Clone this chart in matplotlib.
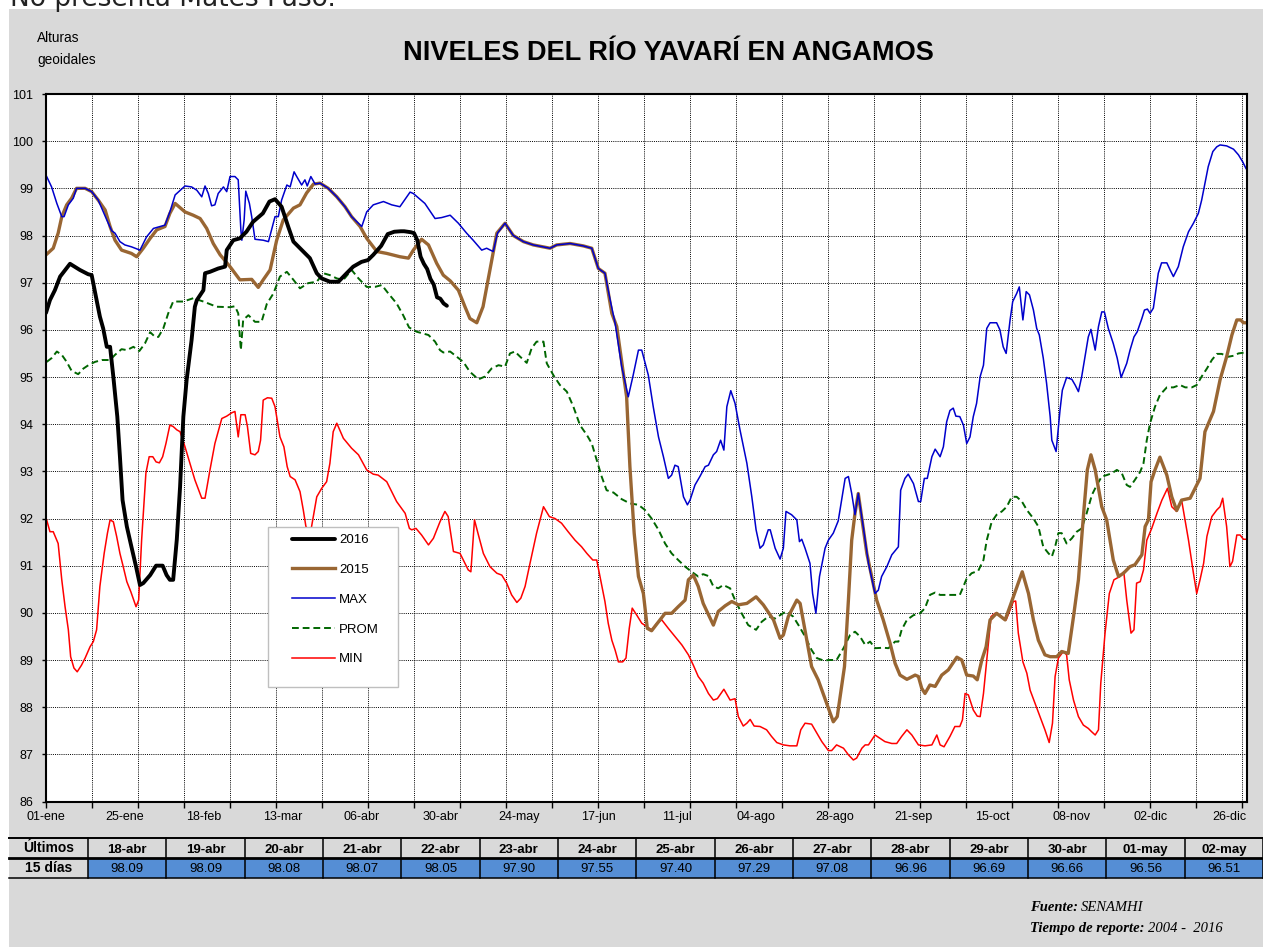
import numpy as np
import matplotlib.pyplot as plt
from matplotlib.patches import Rectangle

# ---- datos (dia del anio 2016, nivel en m) ----
dias_2016 = [0, 1.2, 2.7, 4.3, 7.3, 10.3, 12.8, 13.9, 15.4, 16.4, 17.4, 18.5, 19.5, 20.5,
             21.7, 22.5, 23.3, 24.6, 26, 27.4, 28.6, 29.6, 31.7, 33.5, 35.5, 36.7, 37.7,
             38.7, 39.8, 40.8, 41.8, 42.8, 44.3, 45.3, 45.9, 47.9, 48.4, 49.9, 52.4, 54.5,
             55, 57, 59, 61, 63, 66, 68, 69.7, 71.7, 73.7, 75.3, 77.3, 80.3, 82.4, 83.9,
             86.4, 89, 91.5, 93.5, 96, 98, 99.6, 102, 104, 106]
nivel_2016 = [96.36, 96.63, 96.84, 97.13, 97.40, 97.27, 97.18, 97.16, 96.63, 96.28, 96.03,
              95.64, 95.64, 95.00, 94.16, 93.31, 92.39, 91.83, 91.40, 90.98, 90.59, 90.63,
              90.80, 91.00, 91.00, 90.80, 90.70, 90.70, 91.55, 92.67, 94.16, 94.94, 95.78,
              96.49, 96.63, 96.84, 97.20, 97.23, 97.30, 97.34, 97.69, 97.90, 97.94, 98.08,
              98.29, 98.47, 98.72, 98.77, 98.61, 98.19, 97.87, 97.73, 97.52, 97.20, 97.09,
              97.02, 97.02, 97.20, 97.34, 97.44, 97.48, 97.59, 97.78, 98.03, 98.08]

# ultimos 15 dias (tabla)
fechas_tabla = ['18-abr', '19-abr', '20-abr', '21-abr', '22-abr', '23-abr', '24-abr', '25-abr',
                '26-abr', '27-abr', '28-abr', '29-abr', '30-abr', '01-may', '02-may']
valores_tabla = [98.09, 98.09, 98.08, 98.07, 98.05, 97.90, 97.55, 97.40, 97.29, 97.08,
                 96.96, 96.69, 96.66, 96.56, 96.51]
dia_18_abr = 108

dias_2015 = [0, 2.2, 3.7, 4.8, 6.3, 7.8, 9.3, 11.9, 13.9, 15.9, 18, 19.5, 21, 23, 26, 27.6,
             29.6, 31.7, 33.7, 36.2, 37.7, 39.3, 42.3, 44.8, 46.9, 48.9, 50.9, 53, 56, 59,
             62.6, 64.6, 66.1, 68.2, 70.2, 72.2, 75.3, 77.3, 79.3, 81.4, 83.4, 85.9, 88.5,
             91, 93, 95.6, 97.6, 100.7, 103.7, 107.7, 110.3, 111.8, 114.3, 116.4, 118.9,
             120.9, 123, 125.5, 127.5, 129, 131.1, 133, 135.1, 137.2, 139.7, 142.2, 145.3,
             148.3, 153.4, 155.4, 159.5, 163.5, 166.1, 168.1, 170.1, 172.2, 173.7, 176.7,
             177.7, 179, 180.3, 181.8, 183, 184.3, 186.4, 188.4, 190.4, 192.4, 194.5, 195.5,
             197, 198.5, 200, 203.1, 204.6, 206.7, 208.7, 210.7, 213.3, 216.1, 218.3, 221.4,
             223.4, 224.4, 225.9, 228.5, 229.5, 233, 235, 237.6, 239.6, 240.8, 243, 244.2,
             245.2, 246.2, 247.2, 248.2, 249.8, 251.3, 252.8, 254.8, 256.9, 258.4, 259.9,
             262, 264.5, 265.5, 266.5, 267.5, 269, 270.6, 272.6, 274.6, 277.2, 278.7, 280.2,
             282.2, 283.4, 284.8, 286.1, 287.3, 289.3, 291.9, 294.4, 297.1, 299, 300.5, 302,
             304, 305.6, 307.6, 309.1, 311.1, 312.7, 314.2, 315.7, 316.9, 318, 319.3, 321.3,
             322.8, 324.8, 326.4, 327.9, 329.9, 331.4, 333.5, 334.5, 335.5, 336.3, 337.5, 339,
             341.1, 342.6, 344.1, 345.6, 348.2, 349.7, 351.2, 352.7, 355.3, 357.3, 359.3,
             360.9, 362.4, 363.6, 364.4, 365.4]
nivel_2015 = [97.59, 97.73, 98.05, 98.40, 98.65, 98.79, 99.00, 99.00, 98.93, 98.75, 98.54,
              98.19, 97.90, 97.69, 97.62, 97.55, 97.73, 97.94, 98.12, 98.19, 98.47, 98.68,
              98.50, 98.43, 98.36, 98.15, 97.83, 97.59, 97.34, 97.06, 97.07, 96.90, 97.06,
              97.27, 97.90, 98.33, 98.58, 98.65, 98.90, 99.09, 99.11, 99.00, 98.82, 98.61,
              98.40, 98.19, 97.94, 97.66, 97.62, 97.55, 97.52, 97.69, 97.92, 97.80, 97.41,
              97.16, 97.04, 96.84, 96.49, 96.24, 96.15, 96.49, 97.27, 98.05, 98.26, 98.00,
              97.87, 97.80, 97.73, 97.80, 97.83, 97.78, 97.73, 97.30, 97.20, 96.35, 96.07,
              94.58, 93.10, 91.69, 90.77, 90.41, 89.67, 89.62, 89.81, 89.99, 89.99, 90.13,
              90.27, 90.70, 90.80, 90.56, 90.20, 89.74, 90.03, 90.15, 90.24, 90.17, 90.20,
              90.34, 90.17, 89.85, 89.46, 89.53, 89.92, 90.27, 90.20, 88.86, 88.58, 88.08,
              87.69, 87.80, 88.86, 90.27, 91.54, 92.11, 92.53, 92.04, 91.26, 90.77, 90.27,
              89.85, 89.35, 88.93, 88.68, 88.59, 88.68, 88.65, 88.40, 88.29, 88.47, 88.44,
              88.68, 88.79, 89.06, 89.00, 88.68, 88.66, 88.58, 89.00, 89.28, 89.85, 89.99,
              89.85, 90.34, 90.87, 90.41, 89.85, 89.42, 89.11, 89.07, 89.07, 89.18, 89.14,
              89.92, 90.70, 92.04, 93.03, 93.35, 93.03, 92.25, 91.97, 91.12, 90.77, 90.84,
              90.98, 91.02, 91.23, 91.83, 91.97, 92.78, 93.03, 93.30, 92.92, 92.46, 92.17,
              92.39, 92.43, 92.64, 92.85, 93.84, 94.27, 94.94, 95.43, 95.89, 96.21, 96.21,
              96.15, 96.15]

dias_max = [0.2, 1.7, 3.3, 4.8, 5.5, 6.8, 8.3, 9.3, 11.9, 13.9, 15.9, 18.5, 20, 21, 22.5, 24,
            26, 28.6, 30.6, 32.7, 36.2, 37.7, 39.3, 42.3, 44.3, 45.9, 47.4, 48.4, 49.4, 50.4,
            51.4, 52.4, 54, 55, 56, 57.5, 58.5, 59.3, 59.6, 60.3, 60.8, 61.9, 62.6, 63.6,
            66.1, 67.7, 69.7, 70.7, 71.7, 73.3, 74.3, 75.5, 76.3, 77.8, 78.8, 79.5, 80.6,
            81.9, 83.4, 85.9, 88.5, 91, 93, 96.1, 97.6, 99.6, 102.7, 105.2, 107.7, 110.8,
            111.8, 115.3, 118.4, 120.4, 123, 125.5, 128, 130, 132.6, 134.1, 136.1, 137.4,
            139.7, 142.2, 145.3, 148.3, 153.4, 155.4, 159.5, 163.5, 166.1, 168.1, 170.1,
            171.7, 173.2, 175.2, 177.2, 178.7, 180.3, 181.3, 183.3, 184.8, 186.4, 187.9,
            189.4, 190.4, 191.4, 192.4, 194, 195.2, 196, 197.5, 199, 200.6, 201.6, 203.1,
            204.1, 205.3, 206.3, 207.2, 208.4, 209.7, 211.2, 213.3, 214.8, 216.1, 217.3,
            218.3, 219.8, 220.4, 221.9, 223.4, 224.4, 225.2, 226.9, 228.5, 229.3, 230, 231,
            232.5, 233.3, 234.3, 235.4, 237.1, 238.1, 239.6, 241.1, 243.2, 244.2, 245.2,
            246.2, 247.2, 248.7, 250.3, 252.3, 253.3, 254.3, 255.9, 257.4, 259.4, 260.1,
            261.4, 262.4, 264, 265.5, 266.2, 267.3, 268.2, 269.6, 270.6, 272.1, 273.1, 274.1,
            275.1, 276.1, 276.9, 278.1, 279.2, 280.2, 281.2, 282.2, 283.2, 284.3, 285.3,
            286.3, 287.3, 289.3, 290.3, 291.3, 292.2, 293.4, 294.2, 295.4, 296.2, 297.3,
            298.3, 299.3, 300.5, 301.5, 302.3, 303.5, 304.5, 305.6, 306.1, 307.4, 308.6,
            309.3, 310.6, 312.2, 313.2, 314.2, 315.2, 316.2, 317.2, 318, 319.3, 320.3, 321.3,
            322.1, 323.3, 324.8, 326, 327.2, 328.9, 329.9, 331.1, 332.1, 333.5, 334.3, 335.2,
            336, 337, 338.5, 339.5, 341.1, 342.1, 343.1, 344.6, 346.1, 347.7, 349.2, 350.7,
            351.7, 352.7, 353.7, 355.1, 356.3, 357.3, 359.3, 361.4, 362.9, 364.2, 365.2]
nivel_max = [99.25, 99.03, 98.68, 98.40, 98.40, 98.65, 98.79, 99.00, 99.00, 98.93, 98.75,
             98.33, 98.10, 98.05, 97.87, 97.80, 97.76, 97.69, 97.97, 98.15, 98.22, 98.50,
             98.86, 99.05, 99.03, 98.96, 98.82, 99.05, 98.89, 98.63, 98.65, 98.89, 99.03,
             98.93, 99.25, 99.25, 99.18, 98.12, 97.90, 98.33, 98.94, 98.68, 98.40, 97.92,
             97.90, 97.87, 98.40, 98.40, 98.75, 99.07, 99.03, 99.35, 99.25, 99.07, 99.18,
             99.05, 99.25, 99.09, 99.11, 99.00, 98.82, 98.61, 98.40, 98.19, 98.50, 98.65,
             98.72, 98.65, 98.61, 98.92, 98.89, 98.68, 98.36, 98.38, 98.43, 98.26, 98.05,
             97.90, 97.69, 97.73, 97.66, 98.05, 98.26, 98.00, 97.87, 97.80, 97.73, 97.80,
             97.83, 97.78, 97.73, 97.30, 97.20, 96.63, 96.14, 95.22, 94.58, 95.04, 95.57,
             95.57, 95.04, 94.37, 93.73, 93.31, 92.85, 92.92, 93.13, 93.10, 92.46, 92.29,
             92.39, 92.71, 92.89, 93.10, 93.13, 93.35, 93.42, 93.66, 93.45, 94.37, 94.71,
             94.44, 93.88, 93.17, 92.46, 91.76, 91.37, 91.44, 91.76, 91.76, 91.37, 91.14,
             91.37, 92.15, 92.08, 91.97, 91.51, 91.56, 91.37, 91.05, 90.41, 89.99, 90.77,
             91.37, 91.54, 91.69, 91.95, 92.85, 92.89, 92.53, 92.08, 92.53, 91.83, 91.05,
             90.41, 90.48, 90.77, 90.98, 91.23, 91.40, 92.60, 92.85, 92.94, 92.74, 92.36,
             92.36, 92.85, 92.85, 93.31, 93.47, 93.31, 93.52, 94.05, 94.29, 94.34, 94.17,
             94.16, 93.98, 93.59, 93.73, 94.16, 94.44, 95.01, 95.25, 96.03, 96.15, 96.15,
             96.00, 95.64, 95.50, 96.21, 96.60, 96.77, 96.91, 96.21, 96.81, 96.74, 96.42,
             96.03, 95.89, 95.40, 94.87, 94.16, 93.66, 93.42, 94.30, 94.72, 94.99, 94.95,
             94.83, 94.69, 95.01, 95.43, 95.85, 96.01, 95.57, 96.07, 96.38, 96.38, 96.03,
             95.71, 95.40, 94.99, 95.29, 95.57, 95.85, 95.96, 96.24, 96.42, 96.44, 96.35,
             96.46, 97.20, 97.42, 97.42, 97.27, 97.13, 97.34, 97.76, 98.08, 98.26, 98.47,
             98.75, 99.11, 99.46, 99.78, 99.88, 99.92, 99.90, 99.83, 99.71, 99.56, 99.42]

dias_prom = [0.2, 1.7, 3.3, 4.8, 6.3, 7.8, 9.8, 11.4, 12.9, 14.9, 17, 19.5, 21, 23, 24.6, 26.6,
             28.4, 30.1, 31.7, 33.2, 34.2, 35.7, 37.2, 38.7, 41.8, 44.8, 47.9, 51.9, 56, 57.5,
             58.5, 59.3, 60, 61.6, 63.6, 65.6, 67.2, 69.2, 71.2, 73.3, 75.3, 77.3, 79.8, 82.4,
             84.4, 86.4, 88.5, 90.5, 93, 95.1, 97.6, 100.1, 102.2, 104.2, 106.7, 108.7, 110.5,
             112.8, 116.4, 118.4, 119.9, 120.9, 123, 125, 127, 129, 131.6, 133.6, 135.6, 137.7,
             139.7, 141.2, 142.7, 144.3, 146.3, 147.8, 149.3, 151.4, 152.4, 154.4, 156.4,
             158.5, 160.5, 162.5, 164.6, 166.1, 167.6, 169.1, 170.6, 172.7, 175.2, 177.7,
             180.3, 182.3, 184.3, 186.4, 188.4, 190.4, 192.4, 194.5, 196.5, 198.5, 200, 201.6,
             203.1, 204.6, 206.1, 208.2, 209.7, 211.7, 213.7, 216.1, 217.8, 219.8, 221.9,
             223.4, 225.2, 227.4, 229, 231, 233, 234.6, 236.6, 238.6, 240.6, 242.7, 244.7,
             246.2, 247.7, 249.3, 250.8, 252.3, 254.8, 256.4, 258.4, 259.4, 260.4, 262, 264,
             266, 267.5, 269, 270.6, 272.1, 278.1, 279.2, 280.2, 281.7, 283.7, 285.3, 286.3,
             287.8, 289.3, 290.9, 292.4, 293.9, 295.4, 297, 298.5, 300.5, 302, 303.5, 305.1,
             306.1, 307.1, 308.1, 309.1, 310.6, 312.2, 313.7, 315.2, 316.7, 318.3, 319.8,
             321.3, 322.8, 324.4, 325.9, 327.4, 328.9, 329.9, 331.4, 333, 334, 335, 336,
             337.5, 339, 341.1, 343.1, 345.1, 346.7, 348.7, 350.2, 351.7, 353.3, 354.8, 356.3,
             357.8, 359.8, 361.4, 362.9, 364.9]
nivel_prom = [95.32, 95.40, 95.54, 95.47, 95.32, 95.13, 95.06, 95.18, 95.25, 95.32, 95.36,
              95.36, 95.47, 95.59, 95.57, 95.64, 95.55, 95.71, 95.95, 95.85, 95.85, 96.03,
              96.35, 96.60, 96.60, 96.67, 96.60, 96.49, 96.48, 96.50, 96.35, 95.57, 96.21,
              96.31, 96.17, 96.17, 96.55, 96.77, 97.13, 97.23, 97.06, 96.88, 96.99, 97.02,
              97.20, 97.16, 97.09, 97.06, 97.27, 97.09, 96.91, 96.91, 96.95, 96.77, 96.56,
              96.31, 96.05, 95.96, 95.89, 95.75, 95.57, 95.52, 95.54, 95.43, 95.32, 95.11,
              94.95, 95.01, 95.18, 95.25, 95.22, 95.50, 95.54, 95.43, 95.30, 95.61, 95.75,
              95.75, 95.29, 95.04, 94.83, 94.69, 94.37, 93.98, 93.77, 93.59, 93.24, 92.89,
              92.60, 92.55, 92.41, 92.32, 92.29, 92.18, 92.00, 91.76, 91.47, 91.26, 91.12,
              90.98, 90.87, 90.77, 90.82, 90.78, 90.56, 90.52, 90.59, 90.52, 90.27, 89.99,
              89.74, 89.64, 89.81, 89.92, 89.88, 89.95, 90.03, 89.92, 89.74, 89.50, 89.21,
              89.04, 88.99, 89.00, 89.00, 89.25, 89.53, 89.60, 89.50, 89.32, 89.39, 89.25,
              89.26, 89.25, 89.39, 89.39, 89.64, 89.85, 89.95, 89.99, 90.10, 90.38, 90.43,
              90.38, 90.38, 90.56, 90.73, 90.84, 90.89, 91.12, 91.54, 91.93, 92.08, 92.15,
              92.25, 92.46, 92.46, 92.36, 92.18, 92.00, 91.83, 91.40, 91.26, 91.19, 91.40,
              91.69, 91.69, 91.47, 91.58, 91.72, 91.79, 92.11, 92.50, 92.71, 92.89, 92.92,
              92.96, 93.03, 92.96, 92.71, 92.67, 92.82, 92.99, 93.17, 93.66, 94.02, 94.37,
              94.62, 94.78, 94.78, 94.83, 94.78, 94.78, 94.83, 95.01, 95.18, 95.36, 95.49,
              95.49, 95.43, 95.45, 95.50, 95.52]

dias_min = [0.2, 1.2, 2.2, 3.7, 4.8, 5.8, 6.8, 7.5, 8.5, 9.5, 10.8, 11.9, 13.4, 14.4, 15.4,
            16.4, 17.7, 18.7, 19.5, 20.5, 21.5, 22.5, 23.5, 24.6, 25.8, 27.4, 28.2, 29.1,
            30.4, 31.4, 32.5, 33.5, 34.5, 35.5, 36.5, 37.7, 38.7, 39.8, 40.8, 42.3, 43.8,
            45.3, 47.4, 48.4, 49.9, 51.4, 53.5, 55, 56.5, 57.5, 58.5, 59.3, 60.6, 61.3, 62.3,
            63.6, 64.6, 65.3, 66.1, 67.4, 68.7, 69.7, 71.2, 72.4, 73.4, 74.3, 75.8, 77.3,
            78.3, 79.1, 80.5, 82.4, 83.9, 85.4, 86.4, 87.4, 88.5, 90.5, 93, 95.1, 97.6, 99.6,
            101.1, 103.7, 105.2, 106.7, 109.3, 110.6, 111.3, 112.6, 114.3, 116.4, 117.9,
            119.9, 121.4, 122.4, 124, 126, 127.5, 128.5, 129.3, 130.4, 131.6, 133.1, 135.1,
            137.2, 138.7, 140.2, 141.7, 143.3, 144.5, 145.8, 147.3, 149.3, 151.4, 153.2,
            154.9, 156.9, 158.9, 161, 163, 164.6, 166.4, 167.6, 168.6, 170.1, 171.1, 172.2,
            173.2, 174.2, 175.5, 176.5, 177.5, 178.4, 179.8, 181.3, 182.8, 184.3, 185.9,
            187.4, 189.4, 191.4, 193.5, 195.5, 197, 198.5, 200, 201.6, 203.1, 204.3, 206.3,
            208.2, 209.7, 210.7, 212.2, 213.3, 214.3, 215.5, 217.3, 219.3, 220.8, 222.4,
            224.4, 226.4, 228.5, 229.7, 231, 233, 234.6, 236.1, 238.1, 239.1, 240.6, 242.7,
            244.2, 245.7, 246.7, 248.3, 249.3, 250.3, 252.3, 253.8, 255.3, 257.4, 258.9,
            260.4, 262, 263.5, 265.5, 267.5, 269.6, 271.1, 272.1, 273.3, 275.1, 276.6, 278.1,
            278.9, 279.7, 280.7, 282.2, 283.4, 284.3, 285.3, 286.5, 287.6, 288.8, 290.3,
            292.2, 293.4, 294.4, 295.1, 295.9, 297.3, 298.5, 299.5, 301, 302.5, 304, 305.3,
            306.3, 307.1, 308.1, 309.6, 310.6, 311.4, 312.7, 314.2, 315.7, 317.2, 318.2,
            319.3, 320.3, 321, 322.3, 323.6, 325, 326.8, 328, 328.9, 330.2, 331.1, 331.9, 333,
            334, 335, 336.5, 338.1, 339.6, 341.3, 342.6, 344.1, 345.6, 347.7, 349.2, 350.2,
            351.2, 352.3, 353.3, 354.8, 356.3, 357.3, 358.1, 359.3, 360.3, 361.1, 362.4,
            363.4, 364.4, 365.2]
nivel_min = [91.97, 91.72, 91.72, 91.47, 90.70, 90.13, 89.64, 89.07, 88.83, 88.75, 88.89,
             89.04, 89.28, 89.39, 89.64, 90.56, 91.26, 91.69, 91.97, 91.93, 91.62, 91.26,
             90.98, 90.66, 90.45, 90.13, 90.27, 91.54, 92.96, 93.31, 93.31, 93.20, 93.18,
             93.31, 93.59, 93.98, 93.95, 93.88, 93.84, 93.52, 93.17, 92.82, 92.43, 92.43,
             93.03, 93.59, 94.12, 94.17, 94.24, 94.27, 93.73, 94.20, 94.20, 93.95, 93.38,
             93.35, 93.42, 93.66, 94.51, 94.56, 94.55, 94.37, 93.73, 93.52, 93.10, 92.89,
             92.82, 92.57, 92.18, 91.83, 91.70, 92.46, 92.64, 92.78, 93.17, 93.84, 94.02,
             93.70, 93.49, 93.35, 93.03, 92.94, 92.92, 92.78, 92.57, 92.36, 92.11, 91.79,
             91.76, 91.79, 91.65, 91.44, 91.58, 91.93, 92.15, 92.04, 91.30, 91.26, 91.05,
             90.91, 90.87, 91.97, 91.65, 91.26, 90.98, 90.84, 90.80, 90.63, 90.38, 90.22,
             90.31, 90.56, 91.05, 91.69, 92.25, 92.04, 92.00, 91.90, 91.72, 91.54, 91.40,
             91.26, 91.12, 91.12, 90.77, 90.24, 89.78, 89.42, 89.21, 88.96, 88.96, 89.04,
             89.67, 90.10, 89.95, 89.78, 89.71, 89.64, 89.78, 89.85, 89.67, 89.50, 89.32,
             89.11, 88.89, 88.65, 88.51, 88.29, 88.15, 88.18, 88.38, 88.15, 88.18, 87.80,
             87.60, 87.66, 87.74, 87.60, 87.59, 87.52, 87.38, 87.25, 87.20, 87.18, 87.18,
             87.52, 87.66, 87.64, 87.45, 87.27, 87.08, 87.08, 87.20, 87.13, 86.99, 86.88,
             86.92, 87.13, 87.20, 87.20, 87.41, 87.34, 87.27, 87.23, 87.23, 87.38, 87.52,
             87.41, 87.20, 87.18, 87.20, 87.41, 87.20, 87.16, 87.38, 87.59, 87.59, 87.73,
             88.29, 88.26, 87.94, 87.81, 87.80, 88.29, 89.14, 89.92, 89.99, 89.95, 89.85,
             90.06, 90.24, 90.25, 89.57, 88.96, 88.72, 88.36, 88.08, 87.80, 87.52, 87.25,
             87.66, 88.65, 89.04, 89.18, 89.11, 88.58, 88.15, 87.80, 87.62, 87.55, 87.48,
             87.41, 87.52, 88.51, 89.57, 90.41, 90.70, 90.77, 90.87, 90.27, 89.57, 89.64,
             90.63, 90.66, 90.91, 91.54, 91.79, 92.11, 92.39, 92.64, 92.25, 92.15, 92.39,
             91.54, 90.84, 90.41, 90.70, 91.05, 91.62, 92.04, 92.18, 92.25, 92.43, 91.83,
             90.98, 91.09, 91.65, 91.65, 91.56, 91.56]

etiquetas_x = ['01-ene', '25-ene', '18-feb', '13-mar', '06-abr', '30-abr', '24-may', '17-jun',
               '11-jul', '04-ago', '28-ago', '21-sep', '15-oct', '08-nov', '02-dic', '26-dic']

# ---- figura ----
plt.rcParams['font.family'] = ['Liberation Sans', 'DejaVu Sans']
W, H = 1263, 947


def caja(x0, y0, x1, y1):
    # caja en pixeles (origen arriba-izquierda) -> fraccion de figura
    return [x0 / W, 1 - y1 / H, (x1 - x0) / W, (y1 - y0) / H]


fig = plt.figure(figsize=(W / 100, H / 100), dpi=100)
fig.patches.append(Rectangle((9 / W, 0), 1 - 9 / W, 1 - 9.5 / H, transform=fig.transFigure,
                             facecolor='#d9d9d9', edgecolor='none', zorder=-5))

# texto recortado de la pagina anterior
fig.text(10 / W, 1 - 6 / H, 'No presenta Mates Paso.', fontsize=19, va='baseline',
         family=['DejaVu Sans'], color='#222222')

fig.text(668 / W, 1 - 53 / H, 'NIVELES DEL RÍO YAVARÍ EN ANGAMOS', ha='center', va='center',
         fontsize=19.5, fontweight='bold')
fig.text(37 / W, 1 - 38 / H, 'Alturas', fontsize=9.8, va='center')
fig.text(37 / W, 1 - 60 / H, 'geoidales', fontsize=9.8, va='center')

ax = fig.add_axes(caja(46, 94, 1247, 801.5))
ax.set_facecolor('white')

dias_tabla = dia_18_abr + np.arange(len(valores_tabla))
x16 = list(dias_2016) + list(dias_tabla)
y16 = list(nivel_2016) + list(valores_tabla)

l_min, = ax.plot(dias_min, nivel_min, color='#ff0000', lw=1.1, zorder=2)
l_prom, = ax.plot(dias_prom, nivel_prom, color='#006600', lw=1.4, ls=(0, (3.5, 2)), zorder=2)
l_15, = ax.plot(dias_2015, nivel_2015, color='#996633', lw=2.4, zorder=2,
                solid_joinstyle='round')
l_max, = ax.plot(dias_max, nivel_max, color='#0000cc', lw=1.1, zorder=2)
l_16, = ax.plot(x16, y16, color='black', lw=2.8, zorder=3, solid_joinstyle='round',
                solid_capstyle='round')

ax.set_xlim(0, 365.5)
ax.set_ylim(86, 101)
ax.set_yticks(range(86, 102))
ax.xaxis.remove_overlapping_locs = False
ax.set_xticks(np.arange(0, 366, 14))
ax.set_xticklabels([])
ax.set_xticks(np.arange(0, 361, 24), minor=True)
ax.set_xticklabels(etiquetas_x, minor=True)
ax.tick_params(axis='x', which='major', length=4, width=1, direction='out')
ax.tick_params(axis='x', which='minor', length=0, pad=7, labelsize=9)
ax.tick_params(axis='y', length=3, width=1, direction='out', pad=6, labelsize=9)
ax.grid(True, which='major', color='black', ls=(0, (1, 1.2)), lw=0.7)
for s in ax.spines.values():
    s.set_linewidth(1.5)
    s.set_color('black')

# leyenda
ax.add_patch(Rectangle((0.1851, 0.1614), 0.1082, 0.2270, transform=ax.transAxes,
                       facecolor='white', edgecolor='#bfbfbf', lw=1, zorder=4))
leg = ax.legend([l_16, l_15, l_max, l_prom, l_min], ['2016', '2015', 'MAX', 'PROM', 'MIN'],
                loc='upper left', bbox_to_anchor=(0.2046, 0.378), borderaxespad=0,
                borderpad=0, frameon=False, fontsize=9.5, handlelength=3.3,
                handletextpad=0.3, labelspacing=1.33)
leg.set_zorder(5)

# ---- tabla de los ultimos 15 dias ----
tab = fig.add_axes([0, 0, 1, 1])
tab.axis('off')
fuente_tabla = ['Liberation Sans Narrow', 'Liberation Sans']
y_top, y_mid, y_bot = 838, 858, 878
x_first, x_cols = 9, 88
ancho = (W - x_cols) / len(fechas_tabla)

for i, (f, v) in enumerate(zip(fechas_tabla, valores_tabla)):
    x0 = x_cols + i * ancho
    tab.add_patch(Rectangle((x0, y_mid), ancho, y_bot - y_mid, facecolor='#558ed5',
                            edgecolor='none'))
    tab.text(x0 + ancho / 2, (y_top + y_mid) / 2 + 1.5, f, ha='center', va='center',
             fontsize=9.5, fontweight='bold', family=fuente_tabla)
    tab.text(x0 + ancho / 2, (y_mid + y_bot) / 2 + 0.5, f'{v:.2f}', ha='center',
             va='center', fontsize=9.5, family=fuente_tabla)
    tab.plot([x0, x0], [y_top, y_bot], color='black', lw=1.1)
tab.plot([W - 0.5, W - 0.5], [y_top, y_bot], color='black', lw=1.1)
tab.plot([x_first, W], [y_top, y_top], color='black', lw=1.4)
tab.plot([x_first, W], [y_mid, y_mid], color='black', lw=2.0)
tab.plot([x_first, W], [y_bot, y_bot], color='black', lw=1.1)
tab.text((x_first + x_cols) / 2, (y_top + y_mid) / 2, 'Últimos', ha='center', va='center',
         fontsize=10, fontweight='bold', family=fuente_tabla)
tab.text((x_first + x_cols) / 2, (y_mid + y_bot) / 2, '15 días', ha='center', va='center',
         fontsize=10, fontweight='bold', family=fuente_tabla)
tab.set_xlim(0, W)
tab.set_ylim(H, 0)

# ---- fuente ----
serif = ['Liberation Serif', 'DejaVu Serif']
fig.canvas.draw()
r = fig.canvas.get_renderer()
for y, a, b in [(907, 'Fuente:', 'SENAMHI'), (928, 'Tiempo de reporte:', '2004 -  2016')]:
    t = fig.text(1030 / W, 1 - y / H, a, fontsize=10.5, style='italic', fontweight='bold',
                 family=serif, va='center')
    bb = t.get_window_extent(renderer=r)
    fig.text((bb.x1 + 3) / W, 1 - y / H, b, fontsize=10.5, style='italic', family=serif,
             va='center')

fig.savefig('out.png', dpi=100)
